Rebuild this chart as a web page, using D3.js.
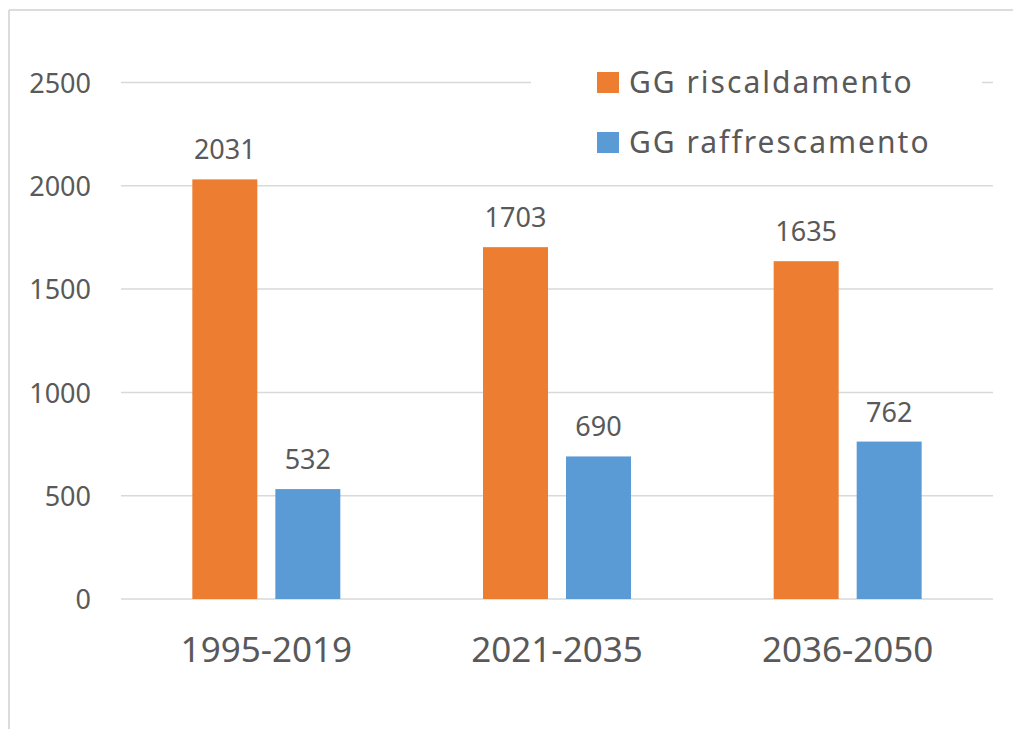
<!DOCTYPE html>
<html>
<head>
<meta charset="utf-8">
<script src="https://cdn.jsdelivr.net/npm/d3@7"></script>
<style>
  html, body { margin: 0; padding: 0; background: #fff; }
  svg { display: block; }
  svg text { font-family: "Noto Sans", "Open Sans", sans-serif; }
</style>
</head>
<body>
<svg id="chart" width="1013" height="729"></svg>
<script>
// Periods on the x axis
const periods = ["1995-2019", "2021-2035", "2036-2050"];
// Series names (legend)
const seriesNames = ["GG riscaldamento", "GG raffrescamento"];
// Degree-day values per period
const heatingValues = [2031, 1703, 1635];
const coolingValues = [532, 690, 762];
// Y axis ticks
const yTicks = [0, 500, 1000, 1500, 2000, 2500];

const colors = ["#ED7D31", "#5B9BD5"];
const textColor = "#595959";
const gridColor = "#d9d9d9";

const svg = d3.select("#chart");
const W = 1013, H = 729;

svg.append("rect").attr("width", W).attr("height", H).attr("fill", "#fff");

// Chart frame (top and left edges)
svg.append("line").attr("x1", 9).attr("x2", W).attr("y1", 10).attr("y2", 10)
  .attr("stroke", "#dcdcdc").attr("stroke-width", 2);
svg.append("line").attr("x1", 9).attr("x2", 9).attr("y1", 10).attr("y2", H)
  .attr("stroke", "#dcdcdc").attr("stroke-width", 2);

const plot = { left: 121, right: 993, top: 82.5, bottom: 599 };

const x0 = d3.scaleBand().domain(periods).range([plot.left, plot.right]).paddingInner(0).paddingOuter(0);
const groupWidth = 148;
const x1 = d3.scaleBand().domain(seriesNames).range([0, groupWidth]).paddingInner(0.217).paddingOuter(0);
const y = d3.scaleLinear().domain([0, 2500]).range([plot.bottom, plot.top]);

const rows = periods.map((p, i) => ({
  period: p,
  values: [
    { series: seriesNames[0], value: heatingValues[i], color: colors[0] },
    { series: seriesNames[1], value: coolingValues[i], color: colors[1] }
  ]
}));

// Gridlines
svg.append("g").selectAll("line").data(yTicks).join("line")
  .attr("x1", plot.left).attr("x2", plot.right)
  .attr("y1", d => y(d)).attr("y2", d => y(d))
  .attr("stroke", gridColor).attr("stroke-width", 1.5);

// Y axis labels
const yAxis = d3.axisLeft(y).tickValues(yTicks).tickFormat(d3.format("d")).tickSize(0).tickPadding(0);
const gy = svg.append("g").attr("transform", `translate(91,0)`).call(yAxis);
gy.select(".domain").remove();
gy.attr("font-family", null).attr("font-size", null);
gy.selectAll("text")
  .attr("fill", textColor)
  .style("font-size", "27px")
  .attr("dy", "0.36em");

// X axis labels
const xAxis = d3.axisBottom(x0).tickSize(0).tickPadding(0);
const gx = svg.append("g").attr("transform", `translate(0,${plot.bottom})`).call(xAxis);
gx.select(".domain").remove();
gx.attr("font-family", null).attr("font-size", null);
gx.selectAll("text")
  .attr("fill", textColor)
  .style("font-size", "35px")
  .attr("y", 63).attr("dy", 0);

// Bars
const groups = svg.append("g").selectAll("g").data(rows).join("g")
  .attr("transform", d => `translate(${x0(d.period) + (x0.bandwidth() - groupWidth) / 2},0)`);

groups.selectAll("rect").data(d => d.values).join("rect")
  .attr("x", d => x1(d.series))
  .attr("width", x1.bandwidth())
  .attr("y", d => y(d.value))
  .attr("height", d => y(0) - y(d.value))
  .attr("fill", d => d.color);

// Value labels
groups.selectAll("text.val").data(d => d.values).join("text")
  .attr("class", "val")
  .attr("x", d => x1(d.series) + x1.bandwidth() / 2)
  .attr("y", d => y(d.value) - 20)
  .attr("text-anchor", "middle")
  .attr("fill", textColor)
  .style("font-size", "27px")
  .text(d => d.value);

// Legend
const legend = svg.append("g");
legend.append("rect").attr("x", 531).attr("y", 58).attr("width", 451).attr("height", 110).attr("fill", "#fff");
const items = legend.selectAll("g").data(seriesNames).join("g")
  .attr("transform", (d, i) => `translate(597,${72 + i * 60})`);
items.append("rect").attr("width", 22).attr("height", 21).attr("fill", (d, i) => colors[i]);
items.append("text").attr("x", 32).attr("y", 20.5)
  .attr("fill", textColor)
  .style("font-size", "30px")
  .style("letter-spacing", "2px")
  .text(d => d);
</script>
</body>
</html>
